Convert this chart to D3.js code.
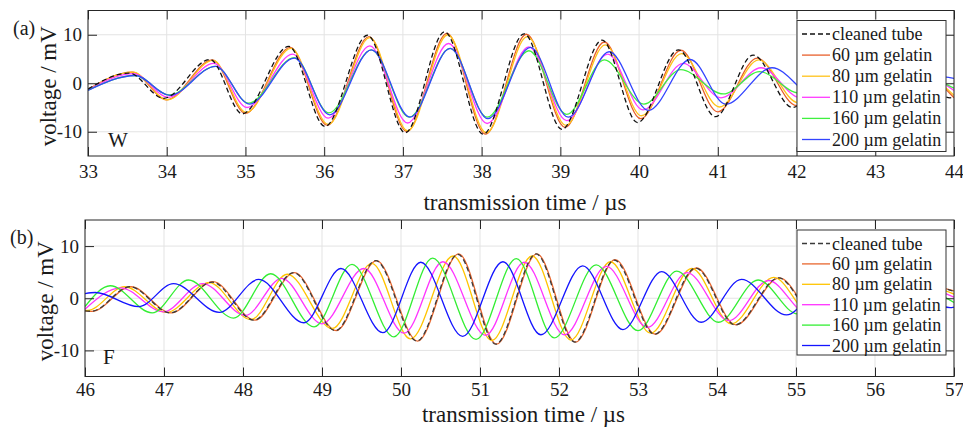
<!DOCTYPE html>
<html>
<head>
<meta charset="utf-8">
<script src="https://cdn.jsdelivr.net/npm/d3@7"></script>
<style>
  body { margin: 0; background: #fff; }
</style>
</head>
<body>
<svg id="chart" width="963" height="432"></svg>
<script>
// legend entries and tick values
const seriesNames = ['cleaned tube', '60 µm gelatin', '80 µm gelatin', '110 µm gelatin', '160 µm gelatin', '200 µm gelatin']
const wTimeTicks = [33, 34, 35, 36, 37, 38, 39, 40, 41, 42, 43, 44]
const fTimeTicks = [46, 47, 48, 49, 50, 51, 52, 53, 54, 55, 56, 57]
const voltTicks = [-10, 0, 10]

// panel (a) W : [time µs, voltage mV] read at the peaks / troughs
const wCleaned = [[33, -1.2], [33.52, 2.1], [33.96, -3.1], [34.55, 4.9], [34.96, -6.3], [35.55, 7.6], [36.01, -8.9], [36.55, 9.9], [37.03, -10.2], [37.53, 10.6], [38.02, -10.5], [38.54, 10.2], [39.02, -9.5], [39.53, 8.9], [39.98, -8.1], [40.5, 6.9], [40.97, -6.9], [41.45, 5.8], [41.95, -5.0], [42.45, 4.2], [42.95, -3.8], [43.45, 3.0], [43.95, -3.0], [44, -2.8]]
const w60 = [[33, -1.3], [33.56, 2.3], [34.0, -3.4], [34.58, 4.8], [35.0, -6.2], [35.57, 7.4], [36.04, -8.7], [36.57, 9.6], [37.05, -10.0], [37.56, 10.3], [38.05, -10.5], [38.57, 10.1], [39.06, -9.1], [39.56, 8.5], [40.02, -7.3], [40.53, 6.8], [41.0, -5.9], [41.5, 5.2], [42.0, -4.6], [42.5, 4.0], [43.0, -3.4], [43.5, 2.8], [44, -3.0]]
const w80 = [[33, -1.3], [33.57, 2.3], [34.01, -3.4], [34.59, 4.7], [35.01, -6.0], [35.58, 7.2], [36.05, -8.5], [36.58, 9.4], [37.06, -9.8], [37.57, 10.0], [38.06, -10.2], [38.58, 9.6], [39.07, -8.7], [39.57, 7.9], [40.03, -6.7], [40.54, 6.1], [41.02, -4.9], [41.52, 4.8], [42.02, -4.0], [42.52, 3.6], [43.02, -3.0], [43.52, 2.5], [44, -2.5]]
const w110 = [[33, -1.3], [33.58, 2.0], [34.02, -2.9], [34.6, 4.1], [35.02, -5.0], [35.6, 6.0], [36.05, -7.2], [36.58, 7.7], [37.06, -8.2], [37.58, 8.2], [38.07, -8.3], [38.6, 7.5], [39.08, -7.7], [39.6, 6.0], [40.05, -5.5], [40.56, 4.1], [41.04, -3.0], [41.55, 3.2], [42.05, -3.0], [42.55, 2.6], [43.05, -2.4], [43.55, 2.0], [44, -1.5]]
const w160 = [[33, -1.4], [33.6, 1.6], [34.03, -2.4], [34.62, 3.5], [35.04, -4.1], [35.62, 5.3], [36.06, -6.1], [36.6, 6.9], [37.08, -7.0], [37.6, 7.2], [38.07, -7.0], [38.6, 6.7], [39.08, -6.4], [39.56, 4.8], [40.06, -4.3], [40.53, 2.8], [41.07, -2.2], [41.53, 2.4], [42.03, -2.0], [42.55, 1.8], [43.05, -1.6], [43.55, 1.4], [44, -1.0]]
const w200 = [[33, -1.5], [33.6, 1.6], [34.04, -2.5], [34.62, 3.5], [35.05, -4.3], [35.62, 5.2], [36.07, -6.5], [36.6, 6.9], [37.09, -7.0], [37.6, 7.2], [38.08, -7.3], [38.62, 7.4], [39.1, -7.0], [39.62, 6.5], [40.12, -5.6], [40.65, 4.9], [41.1, -4.3], [41.69, 3.2], [42.25, -2.8], [42.75, 2.4], [43.25, -2.0], [43.78, 1.4], [44, 1.0]]

// panel (b) F
const fCleaned = [[46, -2.4], [46.08, -2.5], [46.57, 2.2], [47.08, -2.8], [47.61, 3.1], [48.14, -4.2], [48.64, 4.9], [49.17, -6.2], [49.68, 7.2], [50.2, -8.2], [50.72, 8.4], [51.2, -8.8], [51.71, 8.5], [52.2, -8.4], [52.7, 7.3], [53.21, -6.9], [53.73, 5.8], [54.23, -5.1], [54.78, 3.9], [55.25, -3.4], [55.78, 2.8], [56.28, -2.4], [56.8, 2.0], [57, 1.3]]
const f60 = [[46, -2.4], [46.09, -2.5], [46.58, 2.2], [47.09, -2.8], [47.62, 3.2], [48.15, -4.2], [48.65, 4.9], [49.18, -6.2], [49.69, 7.2], [50.21, -8.2], [50.73, 8.5], [51.21, -8.8], [51.72, 8.5], [52.21, -8.4], [52.71, 7.4], [53.22, -6.9], [53.74, 5.8], [54.24, -5.1], [54.79, 3.9], [55.26, -3.4], [55.79, 2.8], [56.29, -2.4], [56.81, 2.0], [57, 1.4]]
const f80 = [[46, -2.3], [46.03, -2.35], [46.5, 2.2], [47.03, -2.7], [47.57, 3.0], [48.1, -4.1], [48.56, 4.6], [49.13, -5.8], [49.63, 6.7], [50.12, -7.8], [50.66, 8.1], [51.15, -8.1], [51.66, 8.1], [52.15, -8.0], [52.65, 7.0], [53.16, -6.7], [53.68, 5.7], [54.18, -4.9], [54.72, 4.0], [55.2, -3.3], [55.72, 2.7], [56.22, -2.3], [56.75, 1.9], [57, 0.8]]
const f110 = [[46, -2.1], [46.45, 2.0], [46.99, -2.6], [47.49, 2.8], [48.03, -3.3], [48.49, 3.8], [49.0, -4.9], [49.53, 5.7], [50.04, -6.7], [50.53, 7.0], [51.07, -7.1], [51.56, 6.9], [52.07, -7.0], [52.6, 6.1], [53.12, -5.6], [53.62, 4.9], [54.15, -4.3], [54.65, 3.4], [55.15, -3.0], [55.65, 2.5], [56.15, -2.1], [56.68, 1.7], [57, 0.2]]
const f160 = [[46, -1.6], [46.32, 2.4], [46.85, -2.8], [47.31, 3.5], [47.88, -3.8], [48.35, 4.7], [48.9, -5.5], [49.38, 6.5], [49.91, -7.4], [50.4, 7.7], [50.95, -7.9], [51.46, 7.6], [51.94, -7.6], [52.47, 6.4], [53.0, -6.2], [53.49, 5.2], [54.02, -4.6], [54.52, 3.5], [55.02, -3.0], [55.55, 2.4], [56.05, -2.0], [56.6, 1.6], [57, -0.8]]
const f200 = [[46, 0.9], [46.13, 1.1], [46.68, -1.6], [47.12, 2.8], [47.7, -2.7], [48.2, 3.6], [48.77, -4.7], [49.24, 5.7], [49.77, -6.6], [50.25, 6.9], [50.78, -7.3], [51.29, 7.0], [51.77, -7.0], [52.3, 6.2], [52.81, -6.0], [53.3, 5.1], [53.8, -4.6], [54.31, 3.6], [54.88, -3.2], [55.35, 2.6], [55.9, -2.4], [56.4, 1.9], [56.95, -1.8], [57, -1.7]]

const wColors = ['#111111', '#e8602c', '#ffc21a', '#ff3cff', '#3ff03f', '#3344ff']
const fColors = ['#3a3a3a', '#e8672f', '#ffc400', '#ff33ff', '#33ee33', '#1414ff']

const FONT = '"Liberation Serif", "DejaVu Serif", serif'

const panels = [
  { tag: '(a)', name: 'W', domain: [33, 44], ticks: wTimeTicks, series: [wCleaned, w60, w80, w110, w160, w200], colors: wColors,
    left: 88, right: 954, top: 10.5, bottom: 156, tickPad: 9, labelDy: 54, tagX: 13, nameDy: 9.5,
    legend: { x: 797, y: 20.5, w: 149, h: 131, row: 21.1 } },
  { tag: '(b)', name: 'F', domain: [46, 57], ticks: fTimeTicks, series: [fCleaned, f60, f80, f110, f160, f200], colors: fColors,
    left: 85, right: 954, top: 220, bottom: 376.5, tickPad: 6, labelDy: 45, tagX: 10, nameDy: 12.5,
    legend: { x: 797, y: 230, w: 149, h: 125, row: 20.4 } }
]

const svg = d3.select('#chart')
const axisColor = '#262626'

panels.forEach((p, pi) => {
  const w = p.right - p.left
  const h = p.bottom - p.top
  const x = d3.scaleLinear().domain(p.domain).range([0, w])
  const y = d3.scaleLinear().domain([-15, 15]).range([h, 0])
  const g = svg.append('g').attr('transform', `translate(${p.left},${p.top})`)

  // grid
  g.append('g').selectAll('line').data(p.ticks).join('line')
    .attr('x1', d => x(d)).attr('x2', d => x(d)).attr('y1', 0).attr('y2', h)
    .attr('stroke', '#e3e3e3').attr('stroke-width', 1)
  g.append('g').selectAll('line').data(voltTicks).join('line')
    .attr('y1', d => y(d)).attr('y2', d => y(d)).attr('x1', 0).attr('x2', w)
    .attr('stroke', '#e3e3e3').attr('stroke-width', 1)

  // curves
  const clipId = 'clip' + pi
  g.append('clipPath').attr('id', clipId).append('rect').attr('width', w).attr('height', h)
  const line = d3.line().x(d => x(d[0])).y(d => y(d[1])).curve(d3.curveMonotoneX)
  const order = [1, 2, 3, 4, 5, 0]
  const lines = g.append('g').attr('clip-path', `url(#${clipId})`)
  order.forEach(i => {
    lines.append('path').datum(p.series[i])
      .attr('d', line)
      .attr('fill', 'none')
      .attr('stroke', p.colors[i])
      .attr('stroke-width', 1.3)
      .attr('stroke-dasharray', i === 0 ? '5,3' : null)
  })

  // axes
  const fmt = d => String(d)
  const styleAxis = sel => {
    sel.select('.domain').remove()
    sel.selectAll('.tick line').attr('stroke', axisColor)
    sel.selectAll('text').style('font-family', FONT).style('font-size', '19px').attr('fill', '#1a1a1a')
  }
  g.append('g').attr('transform', `translate(0,${h})`)
    .call(d3.axisBottom(x).tickValues(p.ticks).tickFormat(fmt).tickSize(-9).tickPadding(p.tickPad))
    .call(styleAxis)
  g.append('g')
    .call(d3.axisTop(x).tickValues(p.ticks).tickFormat('').tickSize(-9))
    .call(styleAxis)
  g.append('g')
    .call(d3.axisLeft(y).tickValues(voltTicks).tickFormat(fmt).tickSize(-9).tickPadding(6))
    .call(styleAxis)
  g.append('g').attr('transform', `translate(${w},0)`)
    .call(d3.axisRight(y).tickValues(voltTicks).tickFormat('').tickSize(-9))
    .call(styleAxis)
  g.append('rect').attr('width', w).attr('height', h)
    .attr('fill', 'none').attr('stroke', axisColor).attr('stroke-width', 1)

  // labels
  const label = (sel, size) => sel.style('font-family', FONT).style('font-size', size).attr('fill', '#1a1a1a')
  g.append('text').attr('x', w / 2 + 4).attr('y', h + p.labelDy)
    .attr('text-anchor', 'middle').call(label, '23px')
    .text('transmission time / µs')
  g.append('text').attr('transform', `translate(${-32},${h / 2 + 3}) rotate(-90)`)
    .attr('text-anchor', 'middle').call(label, '23px')
    .text('voltage / mV')
  g.append('text').attr('x', p.tagX - p.left).attr('y', 24)
    .call(label, '20px').text(p.tag)
  g.append('text').attr('x', pi ? 18 : 20).attr('y', h - p.nameDy)
    .call(label, '21px').text(p.name)

  // legend
  const L = p.legend
  const lg = svg.append('g').attr('transform', `translate(${L.x},${L.y})`)
  lg.append('rect').attr('width', L.w).attr('height', L.h)
    .attr('fill', '#fff').attr('stroke', '#333').attr('stroke-width', 1)
  seriesNames.forEach((name, i) => {
    const cy = 13.5 + i * L.row
    lg.append('line').attr('x1', 5).attr('x2', 33).attr('y1', cy).attr('y2', cy)
      .attr('stroke', p.colors[i]).attr('stroke-width', 1.3)
      .attr('stroke-dasharray', i === 0 ? '5,3' : null)
    lg.append('text').attr('x', 35).attr('y', cy + 6)
      .call(label, '18px').text(name)
  })
})
</script>
</body>
</html>
